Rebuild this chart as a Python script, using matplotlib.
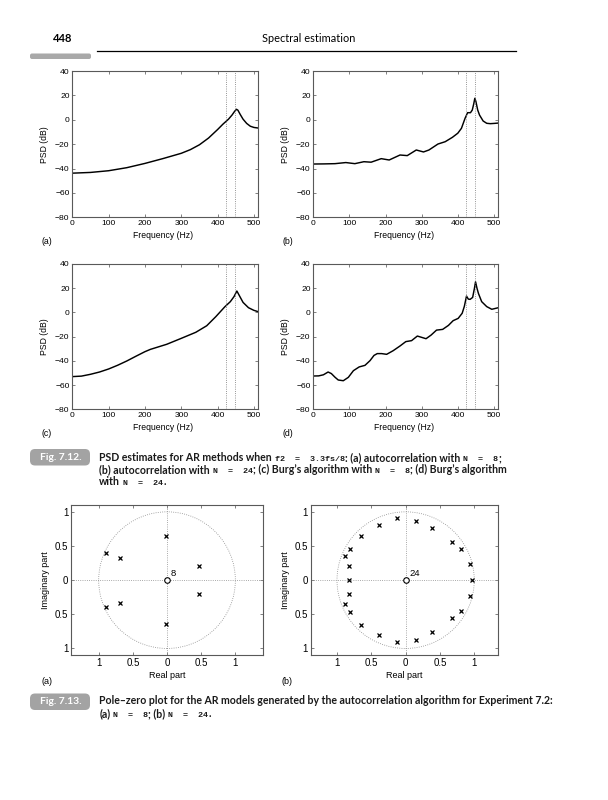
import matplotlib.pyplot as plt
import matplotlib.patches as mpatches

# PSD curves (frequency in Hz, level in dB)
freq_a = [0, 50, 100, 150, 200, 250, 300, 325, 350, 375, 400, 415, 430, 440,
          447, 452, 456, 462, 470, 480, 490, 500, 512]
psd_a = [-43.8, -43.2, -41.8, -39.3, -35.8, -31.8, -27.5, -24.5, -20.5, -15,
         -8, -3.5, 0.5, 4, 7, 8.6, 7.8, 4.5, 0.5, -3, -5.3, -6.3, -6.8]

freq_b = [0, 30, 60, 90, 115, 140, 160, 188, 210, 240, 260, 285, 305, 320,
          345, 365, 385, 400, 410, 420, 427, 435, 440, 444, 447, 450, 455,
          460, 470, 480, 490, 500, 512]
psd_b = [-36.3, -36.2, -36.0, -35.1, -36.0, -34.4, -34.8, -31.9, -33.0, -28.9,
         -29.4, -24.8, -26.4, -24.8, -19.9, -18, -14.4, -11, -7, 1.2, 5.8, 5.8,
         8, 13, 17.6, 15, 8, 3.9, -1, -2.9, -3.2, -3.0, -2.7]

freq_c = [0, 25, 50, 75, 100, 125, 150, 175, 200, 215, 230, 260, 300, 340,
          370, 395, 420, 435, 445, 453, 460, 470, 485, 500, 512]
psd_c = [-53, -52.6, -51.1, -49.2, -46.7, -43.6, -40.1, -36.2, -32.4, -30.5,
         -29.1, -26.3, -21.4, -16.4, -11, -3.5, 4.7, 8.9, 13, 17.7, 13.8, 8.3,
         3.9, 1.7, 0.6]

freq_d = [0, 15, 28, 41, 50, 60, 69, 83, 97, 111, 127, 143, 157, 168, 177,
          189, 203, 221, 240, 256, 272, 288, 300, 312, 326, 341, 358, 374, 387,
          401, 412, 418, 424, 429, 434, 441, 446, 449, 453, 457, 466, 480, 494,
          512]
psd_d = [-52.5, -52.4, -51.5, -49.2, -50.5, -53.5, -55.8, -56.4, -53.6, -48.1,
         -45, -43.7, -39.8, -35.5, -34, -34, -34.6, -31.6, -27.7, -24.1, -23.3,
         -19.5, -20.6, -21.7, -18.7, -14.6, -14, -10.7, -6.8, -4.9, -0.7, 5,
         13.5, 11, 10.8, 12.4, 20, 25.3, 20, 15.7, 8.9, 4.8, 2.6, 3.9]

# the two sinusoid frequencies (dotted lines)
f_marks = [422.4, 448]

# poles, AR model N = 8
pa_re = [-0.89, -0.69, -0.02, 0.47, 0.47, -0.02, -0.69, -0.89]
pa_im = [0.40, 0.33, 0.64, 0.21, -0.21, -0.64, -0.33, -0.40]

# poles, AR model N = 24
pb_re = [-0.13, 0.15, -0.39, 0.38, -0.65, 0.68, -0.81, 0.81, -0.89, -0.83,
         0.94, -0.83, 0.96, -0.83, -0.89, -0.81, -0.65, -0.39, -0.13, 0.15,
         0.38, 0.68, 0.81, 0.94]
pb_im = [0.91, 0.87, 0.80, 0.76, 0.65, 0.56, 0.46, 0.45, 0.35, 0.21, 0.23,
         0.0, 0.0, -0.21, -0.35, -0.46, -0.65, -0.80, -0.91, -0.87, -0.76,
         -0.56, -0.45, -0.23]

psd_xticks = [0, 100, 200, 300, 400, 500]
psd_yticks = [40, 20, 0, -20, -40, -60, -80]
pz_ticks = [-1, -0.5, 0, 0.5, 1]
pz_ticklabels = ['1', '0.5', '0', '0.5', '1']

plt.rcParams['font.family'] = ['Liberation Sans', 'DejaVu Sans']
W, H = 608, 800
fig = plt.figure(figsize=(W / 100, H / 100), dpi=100)

# page-level axes in pixel units for header, captions and labels
page = fig.add_axes([0, 0, 1, 1], zorder=-1)
page.set_xlim(0, W)
page.set_ylim(H, 0)
page.axis('off')

SANS = ['Lato', 'DejaVu Sans']
MONO = ['Liberation Mono', 'DejaVu Sans Mono']


def rect(l, t, r, b):
    return [l / W, 1 - b / H, (r - l) / W, (b - t) / H]


def style_axes(ax, size):
    for s in ax.spines.values():
        s.set_color('0.35')
        s.set_linewidth(0.8)
    ax.tick_params(direction='in', top=True, right=True, length=2.2,
                   width=0.5, color='0.3', labelsize=size, pad=2)


def psd_panel(box, f, p, tag):
    l, t, r, b = box
    ax = fig.add_axes(rect(l, t, r, b))
    ax.plot(f, p, color='black', lw=1.05)
    for fm in f_marks:
        ax.axvline(fm, color='0.45', ls=':', lw=0.6)
    ax.set_xlim(0, 512)
    ax.set_ylim(-80, 40)
    ax.set_xticks(psd_xticks)
    ax.set_yticks(psd_yticks)
    style_axes(ax, 6.1)
    page.text((l + r) / 2 - 2, b + 18.5, 'Frequency (Hz)', ha='center',
              va='center', fontsize=6.2)
    page.text(l - 27.5, (t + b) / 2, 'PSD (dB)', ha='center', va='center',
              rotation=90, fontsize=6.2)
    page.text(l - 31, b + 24.5, tag, ha='left', va='center', fontsize=6.3)
    return ax


psd_panel((72.3, 71, 258.3, 217.3), freq_a, psd_a, '(a)')
psd_panel((313.3, 71, 498.3, 217.3), freq_b, psd_b, '(b)')
psd_panel((72.3, 264, 258.3, 409.3), freq_c, psd_c, '(c)')
psd_panel((313.3, 264, 498.3, 409.3), freq_d, psd_d, '(d)')


def pz_panel(box, xlim, re, im, order, tag):
    l, t, r, b = box
    ax = fig.add_axes(rect(l, t, r, b))
    ax.add_patch(mpatches.Circle((0, 0), 1, fill=False, ls=':', lw=0.6,
                                 color='0.55'))
    ax.axhline(0, color='0.55', ls=':', lw=0.6)
    ax.axvline(0, color='0.55', ls=':', lw=0.6)
    ax.plot(re, im, 'x', color='black', ms=3.3, mew=0.9)
    ax.plot([0], [0], 'o', mfc='white', mec='black', ms=4.0, mew=0.8)
    ax.text(0.06, 0.095, str(order), fontsize=6.8, ha='left', va='center')
    ax.set_xlim(*xlim)
    ax.set_ylim(-1.1, 1.1)
    ax.set_xticks(pz_ticks)
    ax.set_xticklabels(pz_ticklabels)
    ax.set_yticks(pz_ticks)
    ax.set_yticklabels(pz_ticklabels)
    style_axes(ax, 7.0)
    page.text((l + r) / 2, b + 20.5, 'Real part', ha='center', va='center',
              fontsize=6.5)
    page.text(l - 25.5, (t + b) / 2, 'Imaginary part', ha='center',
              va='center', rotation=90, fontsize=6.5)
    page.text(l - 29, b + 26.5, tag, ha='left', va='center', fontsize=6.5)
    return ax


pz_panel((71, 505, 262.7, 655.3), (-1.405, 1.40), pa_re, pa_im, 8, '(a)')
pz_panel((310.7, 505, 498.3, 655.3), (-1.383, 1.35), pb_re, pb_im, 24, '(b)')

# running header
page.text(53, 38.5, '448', fontsize=8, fontweight='bold', family=SANS,
          va='center', ha='left')
page.text(308.5, 38.5, 'Spectral estimation', fontsize=7.9, family=SANS,
          va='center', ha='center')
page.plot([97, 516], [51, 51], color='black', lw=0.9)
page.add_patch(mpatches.FancyBboxPatch((30, 53.5), 61, 5.5,
                                       boxstyle='round,pad=0,rounding_size=2',
                                       color='#a9a9a9', lw=0))


def fig_tag(y_top, label):
    page.add_patch(mpatches.FancyBboxPatch(
        (30, y_top), 60, 16.5, boxstyle='round,pad=0,rounding_size=5',
        color='#a3a3a3', lw=0))
    page.text(61, y_top + 8.5, label, color='white', fontsize=7.4,
              fontweight='bold', family=SANS, ha='center', va='center')


renderer = fig.canvas.get_renderer()


def rich_line(x, y, segs, size=7.6, msize=6.0):
    # segs: (text, is_code, space_before), placed one after another
    gap = 0.28 * size * 100 / 72
    pos = x
    for s, mono, sp in segs:
        if sp:
            pos += gap
        t = page.text(pos, y, s, ha='left', va='baseline', color='0.1',
                      fontweight='bold', fontsize=msize if mono else size,
                      family=MONO if mono else SANS)
        pos += t.get_window_extent(renderer).width


fig_tag(449, 'Fig. 7.12.')
rich_line(99.3, 461, [('PSD estimates for AR methods when', False, False),
                      ('f2  =  3.3fs/8', True, True),
                      (': (a) autocorrelation with', False, False),
                      ('N  =  8', True, True), (';', False, False)])
rich_line(99.3, 473, [('(b) autocorrelation with', False, False),
                      ('N  =  24', True, True),
                      ('; (c) Burg\u2019s algorithm with', False, False),
                      ('N  =  8', True, True),
                      ('; (d) Burg\u2019s algorithm', False, False)])
rich_line(99.3, 485, [('with', False, False), ('N  =  24', True, True),
                      ('.', False, False)])

fig_tag(693.5, 'Fig. 7.13.')
rich_line(99.3, 704.5,
          [('Pole\u2013zero plot for the AR models generated by the '
            'autocorrelation algorithm for Experiment 7.2:', False, False)])
rich_line(99.3, 717, [('(a)', False, False), ('N  =  8', True, True),
                      ('; (b)', False, False), ('N  =  24', True, True),
                      ('.', False, False)])

fig.savefig('out.png', dpi=100)
